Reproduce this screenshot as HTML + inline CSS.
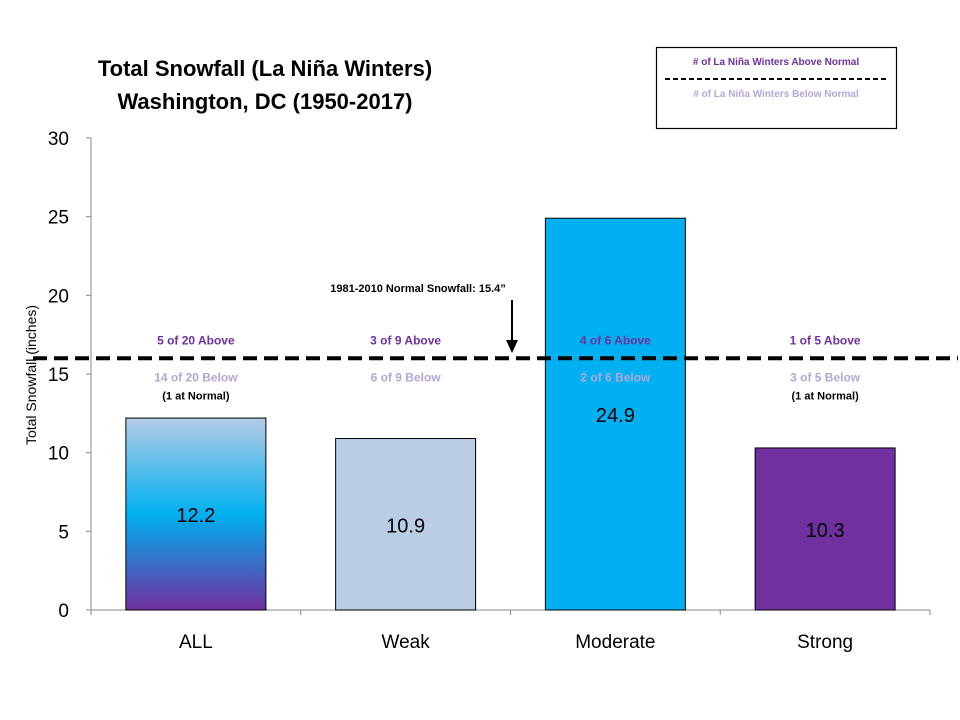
<!DOCTYPE html>
<html><head><meta charset="utf-8"><style>
body{margin:0;background:#fff;}
svg{display:block;font-family:"Liberation Sans",sans-serif;}
</style></head><body>
<svg id="chart" width="960" height="720">
<defs>
<linearGradient id="gAll" x1="0" y1="0" x2="0" y2="1">
<stop offset="0" stop-color="#b6cce6"/>
<stop offset="0.5" stop-color="#00b0f0"/>
<stop offset="1" stop-color="#7030a0"/>
</linearGradient>
</defs>
<text x="265" y="76" font-size="22" font-weight="bold" text-anchor="middle">Total  Snowfall (La Niña Winters)</text>
<text x="265" y="109" font-size="22" font-weight="bold" text-anchor="middle">Washington, DC (1950-2017)</text>
<g>
<rect x="656.5" y="47.5" width="240" height="81" fill="#fff" stroke="#000" stroke-width="1.2"/>
<text x="776" y="65" font-size="10" font-weight="bold" fill="#7030a0" text-anchor="middle"># of La Niña Winters Above Normal</text>
<line x1="665" y1="79" x2="888" y2="79" stroke="#000" stroke-width="2" stroke-dasharray="5,3"/>
<text x="776" y="97" font-size="10" font-weight="bold" fill="#b4a7d6" text-anchor="middle"># of La Niña Winters Below Normal</text>
</g>
<text transform="translate(36,375) rotate(-90)" font-size="14" text-anchor="middle">Total Snowfall (inches)</text>
<g id="axes"></g>
<g id="bars"></g>
<g id="notes"></g>
</svg>
<script>
const categories = ["ALL","Weak","Moderate","Strong"];
const values = [12.2,10.9,24.9,10.3];
const yTicks = [0,5,10,15,20,25,30];
const normalLine = 16.0;
const aboveLabels = ["5 of 20 Above","3 of 9 Above","4 of 6 Above","1 of 5 Above"];
const belowLabels = ["14 of 20 Below","6 of 9 Below","2 of 6 Below","3 of 5 Below"];
const atNormal = ["(1 at Normal)","","","(1 at Normal)"];

const NS="http://www.w3.org/2000/svg";
const x0=91,x1=930,yBase=610,yTop=138,yMax=30;
const y=v=>yBase-(v/yMax)*(yBase-yTop);
const band=(x1-x0)/categories.length;
const xc=i=>x0+band*(i+0.5);
function mk(p,t,a){const e=document.createElementNS(NS,t);for(const k in a)e.setAttribute(k,a[k]);p.appendChild(e);return e;}
const axes=document.getElementById('axes'),bars=document.getElementById('bars'),notes=document.getElementById('notes');
const ya=mk(axes,'line',{x1:x0,y1:yTop,x2:x0,y2:yBase,stroke:'#888'});


const xa=mk(axes,'line',{x1:x0,y1:yBase,x2:x1,y2:yBase,stroke:'#888'});


yTicks.forEach(t=>{
 mk(axes,'line',{x1:x0-5,y1:y(t),x2:x0,y2:y(t),stroke:'#888'});
 const l=mk(axes,'text',{x:x0-22,y:y(t)+7,'font-size':19,'text-anchor':'end'});
 l.textContent=t;
 
 
});
for(let i=0;i<=categories.length;i++) mk(axes,'line',{x1:x0+band*i,y1:yBase,x2:x0+band*i,y2:yBase+5,stroke:'#888'});
const fills=['url(#gAll)','#b9cde5','#00b0f0','#7030a0'];
const bw=140;
categories.forEach((c,i)=>{
 const b=mk(bars,'rect',{x:xc(i)-bw/2,y:y(values[i]),width:bw,height:yBase-y(values[i]),fill:fills[i],stroke:'#000','stroke-width':1});
 
 
 const v=mk(bars,'text',{x:xc(i),y:(y(values[i])+yBase)/2+8,'font-size':20,'text-anchor':'middle'});
 v.textContent=values[i].toFixed(1);
 
 
 const xl=mk(bars,'text',{x:xc(i),y:648,'font-size':19,'text-anchor':'middle'});
 xl.textContent=c;
 
 
 const a=mk(notes,'text',{x:xc(i),y:y(normalLine)-14,'font-size':12,'font-weight':'bold',fill:'#7030a0','text-anchor':'middle'});
 a.textContent=aboveLabels[i];
 
 
 const bl=mk(notes,'text',{x:xc(i),y:y(normalLine)+23,'font-size':12,'font-weight':'bold',fill:'#b4a7d6','text-anchor':'middle'});
 bl.textContent=belowLabels[i];
 
 
 if(atNormal[i]){
  const n=mk(notes,'text',{x:xc(i),y:y(normalLine)+41,'font-size':11,'font-weight':'bold','text-anchor':'middle'});
  n.textContent=atNormal[i];
  
  
 }
});
const nl=mk(notes,'line',{x1:33,y1:y(normalLine),x2:958,y2:y(normalLine),stroke:'#000','stroke-width':4,'stroke-dasharray':'14,7'});


const nt=mk(notes,'text',{x:418,y:292,'font-size':11,'font-weight':'bold','text-anchor':'middle'});
nt.textContent='1981-2010  Normal Snowfall: 15.4\u201d';


const ar=mk(notes,'line',{x1:512,y1:300,x2:512,y2:342,stroke:'#000','stroke-width':2});


mk(notes,'polygon',{points:'506,340 518,340 512,353',fill:'#000'});
</script>
</body></html>
